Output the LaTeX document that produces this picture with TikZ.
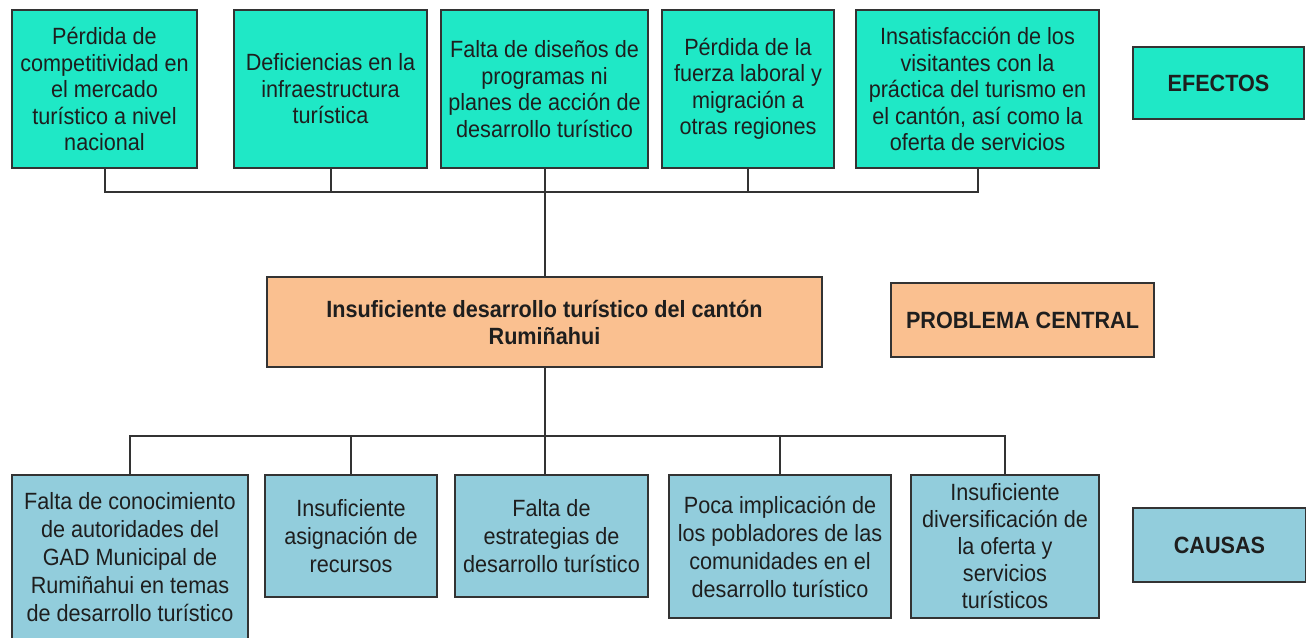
\documentclass[tikz,border=0pt]{standalone}
\usepackage{fontspec}
\setmainfont{Liberation Sans}[FakeStretch=0.92]
\definecolor{efe}{HTML}{1FE8C6}
\definecolor{pro}{HTML}{FAC090}
\definecolor{cau}{HTML}{92CDDC}
\definecolor{edge}{HTML}{333333}
\definecolor{txt}{HTML}{1E1E1E}
\begin{document}
\begin{tikzpicture}[x=1pt,y=-1pt,
  box/.style={draw=edge,line width=2pt,inner sep=0pt,align=center,text=txt,
    font=\fontsize{23.5}{26.5}\selectfont},
  efbox/.style={box,fill=efe},
  prbox/.style={box,fill=pro,font=\bfseries\fontsize{23.5}{27}\selectfont},
  cabox/.style={box,fill=cau,font=\fontsize{23.5}{28}\selectfont},
  lbl/.style={font=\bfseries\fontsize{23.5}{26}\selectfont},
  conn/.style={draw=edge,line width=2pt}]
\clip (0,0) rectangle (1306,637);
\fill[white] (0,0) rectangle (1306,637);
% effects
\node[efbox,minimum width=185pt,minimum height=158pt] (E1) at (104.5,89) {Pérdida de\\competitividad en\\el mercado\\turístico a nivel\\nacional};
\node[efbox,minimum width=193pt,minimum height=158pt] (E2) at (330.5,89) {Deficiencias en la\\infraestructura\\turística};
\node[efbox,minimum width=207pt,minimum height=158pt] (E3) at (544.5,89) {Falta de diseños de\\programas ni\\planes de acción de\\desarrollo turístico};
\node[efbox,minimum width=172pt,minimum height=158pt] (E4) at (748,89) {Pérdida de la\\fuerza laboral y\\migración a\\otras regiones};
\node[efbox,minimum width=243pt,minimum height=158pt] (E5) at (977.5,89) {Insatisfacción de los\\visitantes con la\\práctica del turismo en\\el cantón, así como la\\oferta de servicios};
\node[efbox,lbl,minimum width=171pt,minimum height=72pt] (EF) at (1218.5,83) {EFECTOS};
% central problem
\node[prbox,minimum width=555pt,minimum height=90pt] (P) at (544.5,322) {Insuficiente desarrollo turístico del cantón\\Rumiñahui};
\node[prbox,minimum width=263pt,minimum height=74pt] (PC) at (1022.5,320) {PROBLEMA CENTRAL};
% causes
\node[cabox,minimum width=236pt,minimum height=164pt] (C1) at (130,557) {Falta de conocimiento\\de autoridades del\\GAD Municipal de\\Rumiñahui en temas\\de desarrollo turístico};
\node[cabox,minimum width=172pt,minimum height=122pt] (C2) at (351,536) {Insuficiente\\asignación de\\recursos};
\node[cabox,minimum width=193pt,minimum height=122pt] (C3) at (551.5,536) {Falta de\\estrategias de\\desarrollo turístico};
\node[cabox,minimum width=222pt,minimum height=143pt] (C4) at (780,546.5) {Poca implicación de\\los pobladores de las\\comunidades en el\\desarrollo turístico};
\node[cabox,minimum width=188pt,minimum height=143pt,font=\fontsize{23.5}{27}\selectfont] (C5) at (1005,546.5) {Insuficiente\\diversificación de\\la oferta y\\servicios\\turísticos};
\node[cabox,lbl,minimum width=173pt,minimum height=74pt] (CA) at (1219.5,545) {CAUSAS};
% connectors
\coordinate (ht) at (0,192);
\coordinate (hb) at (0,436);
\draw[conn] (E1.south) -- (E1.south |- ht) -- (E5.south |- ht) -- (E5.south);
\draw[conn] (E2.south) -- (E2.south |- ht);
\draw[conn] (E4.south) -- (E4.south |- ht);
\draw[conn] (E3.south) -- (P.north);
\draw[conn] (P.south) -- (P.south |- C3.north);
\draw[conn] (C1.north) -- (C1.north |- hb) -- (C5.north |- hb) -- (C5.north);
\draw[conn] (C2.north) -- (C2.north |- hb);
\draw[conn] (C4.north) -- (C4.north |- hb);
\end{tikzpicture}
\end{document}
